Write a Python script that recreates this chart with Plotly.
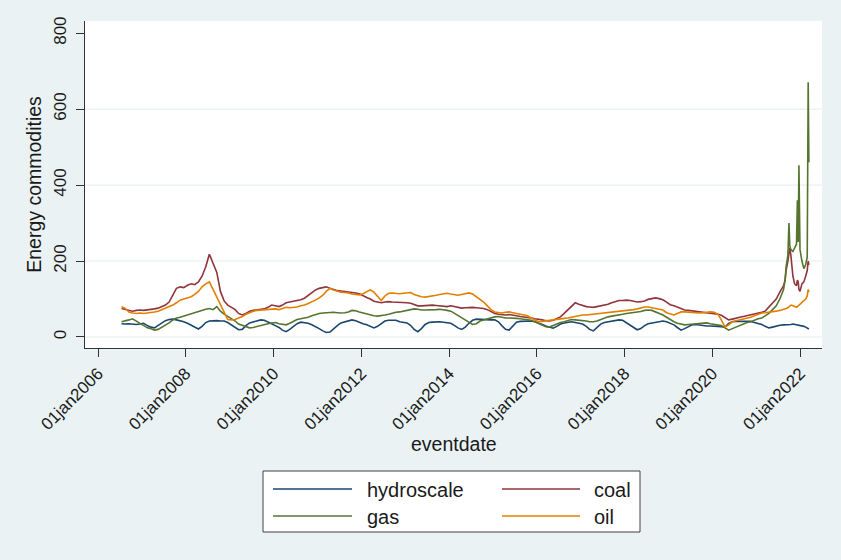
import pandas as pd
import plotly.graph_objects as go

# ---- data: monthly readings Jul 2006 - Aug 2021, then finer dates into Mar 2022 ----
monthly_dates = list((pd.date_range("2006-07-01", "2021-08-01", freq="MS")
                      + pd.Timedelta(days=14)).strftime("%Y-%m-%d"))
late_dates = ["2021-08-28", "2021-09-05", "2021-09-20", "2021-09-29", "2021-10-06",
              "2021-10-15", "2021-11-01", "2021-11-15", "2021-12-01", "2021-12-08",
              "2021-12-15", "2021-12-21", "2021-12-30", "2022-01-15", "2022-01-31",
              "2022-02-15", "2022-02-28", "2022-03-08", "2022-03-14"]
eventdate = monthly_dates + late_dates

hydroscale = [
    35, 34, 35, 34, 33, 34,
    36, 30, 26, 24, 30, 38, 43, 46, 47, 45, 43, 40,
    36, 31, 25, 21, 28, 38, 42, 43, 43, 42, 42, 38,
    32, 25, 19, 20, 30, 37, 40, 43, 45, 44, 40, 35,
    30, 25, 18, 14, 20, 28, 35, 39, 38, 36, 32, 28,
    22, 16, 12, 13, 22, 30, 37, 40, 43, 45, 43, 38,
    35, 32, 28, 24, 28, 36, 42, 44, 45, 44, 40, 38,
    37, 30, 20, 14, 22, 33, 38, 39, 40, 40, 39, 38,
    36, 30, 24, 20, 26, 36, 44, 47, 46, 45, 44, 45,
    45, 40, 30, 20, 18, 30, 39, 41, 42, 43, 42, 40,
    37, 33, 29, 25, 23, 28, 34, 37, 39, 40, 38, 36,
    34, 28, 20, 16, 24, 34, 38, 40, 43, 45, 45, 44,
    38, 30, 25, 19, 22, 30, 35, 37, 39, 41, 42, 40,
    36, 32, 25, 18, 22, 28, 32, 33, 31, 30, 29, 29,
    29, 28, 27, 26, 36, 40, 41, 41, 42, 42, 41, 38,
    36, 33, 28, 24, 26, 29, 31, 32,
    32, 33, 32, 33, 32, 33, 34, 33, 32, 33, 32, 32, 31, 30, 28, 26, 24, 22, 21,
]

coal = [
    75, 72, 70, 68, 70, 71,
    70, 71, 73, 74, 76, 80, 84, 92, 110, 128, 132, 130,
    136, 140, 138, 145, 160, 185, 218, 195, 170, 120, 95, 84,
    78, 72, 62, 58, 62, 68, 70, 72, 72, 74, 78, 84,
    82, 80, 84, 90, 92, 94, 96, 98, 102, 110, 116, 124,
    128, 130, 132, 128, 124, 122, 121, 120, 118, 117, 116, 114,
    110, 104, 100, 94, 92, 90, 92, 93, 92, 92, 91, 90,
    90, 89, 86, 82, 82, 83, 84, 84, 83, 82, 81, 80,
    82, 80, 78, 76, 77, 78, 78, 77, 76, 75, 72, 66,
    62, 60, 59, 58, 59, 58, 56, 54, 53, 52, 50, 48,
    47, 45, 43, 42, 44, 48, 53, 62, 72, 82, 90, 86,
    82, 80, 79, 78, 80, 82, 84, 86, 90, 94, 96, 96,
    97, 96, 94, 92, 93, 95, 99, 102, 103, 101, 98, 92,
    85, 82, 78, 74, 71, 70, 69, 68, 67, 66, 64, 62,
    61, 60, 57, 50, 45, 47, 50, 52, 54, 56, 57, 60,
    62, 65, 68, 78, 88, 100, 118, 135,
    150, 175, 200, 225, 235, 215, 160, 140, 135, 150, 145, 125, 120, 140, 145, 160, 175, 200, 190,
]

gas = [
    40, 42, 45, 48, 42, 35,
    28, 24, 22, 18, 20, 25, 32, 37, 45, 50, 52, 55,
    58, 62, 64, 66, 70, 73, 75, 72, 80, 68, 60, 54,
    50, 42, 34, 30, 26, 24, 25, 28, 30, 33, 35, 37,
    38, 35, 33, 32, 36, 42, 46, 48, 50, 52, 56, 60,
    62, 63, 64, 64, 65, 64, 63, 64, 66, 70, 69, 66,
    63, 60, 58, 56, 55, 56, 58, 60, 63, 65, 66, 68,
    70, 72, 74, 73, 71, 71, 71, 71, 72, 73, 72, 70,
    68, 62, 55, 50, 44, 38, 33, 35, 42, 45, 48, 51,
    53, 54, 52, 50, 50, 50, 49, 48, 46, 45, 44, 40,
    35, 30, 27, 26, 30, 35, 38, 40, 43, 46, 45, 44,
    44, 42, 40, 40, 42, 46, 50, 53, 55, 56, 58, 60,
    62, 63, 64, 65, 67, 70, 71, 70, 66, 63, 58, 52,
    45, 40, 36, 33, 32, 33, 34, 35, 36, 37, 37, 35,
    33, 32, 30, 24, 18, 22, 26, 30, 35, 38, 40, 44,
    48, 50, 55, 62, 72, 82, 100, 125,
    150, 185, 215, 300, 240, 230, 225, 235, 245, 360, 250, 452, 230, 200, 180, 190, 210, 671, 460,
]

oil = [
    80, 75, 66, 63, 62, 63,
    62, 63, 64, 66, 68, 72, 76, 78, 84, 90, 97, 100,
    103, 106, 112, 120, 132, 140, 145, 125, 105, 82, 62, 46,
    45, 46, 50, 54, 60, 65, 68, 70, 71, 72, 73, 72,
    74, 72, 75, 78, 77, 78, 79, 82, 84, 88, 92, 97,
    103, 110, 120, 128, 124, 120, 118, 117, 116, 113, 112, 111,
    114, 120, 124, 118, 108, 96, 108, 115, 116, 115, 114, 115,
    116, 117, 112, 108, 106, 105, 106, 108, 110, 112, 114, 115,
    113, 111, 110, 112, 114, 116, 113, 106, 100, 92, 82, 72,
    66, 64, 63, 65, 66, 64, 62, 60, 58, 56, 50, 44,
    40, 41, 43, 44, 45, 47, 48, 49, 50, 52, 54, 56,
    58, 58, 59, 60, 61, 62, 63, 63, 64, 65, 66, 68,
    70, 71, 72, 74, 77, 79, 79, 77, 75, 73, 71, 64,
    60, 58, 62, 66, 66, 65, 64, 63, 63, 64, 65, 66,
    65, 60, 45, 26, 32, 40, 43, 45, 47, 50, 52, 56,
    60, 63, 64, 65, 66, 68, 70, 72,
    74, 75, 77, 79, 82, 84, 82, 80, 78, 80, 82, 84, 86, 90, 96, 100, 108, 125, 118,
]

series_names = ["hydroscale", "coal", "gas", "oil"]
series_values = [hydroscale, coal, gas, oil]
series_colors = ["#1A476F", "#90353B", "#55752F", "#E37E00"]

tick_years = list(range(2006, 2023, 2))
x_tickvals = [f"{y}-01-01" for y in tick_years]
x_ticktext = [f"01jan{y}" for y in tick_years]
y_tickvals = [0, 200, 400, 600, 800]
grid_values = [0, 200, 400, 600]

for vals in series_values:
    assert len(vals) == len(eventdate), (len(vals), len(eventdate))

# ---- figure ----
W, H = 841, 560
ML, MR, MT, MB = 85, 19, 21, 212
PW, PH = W - ML - MR, H - MT - MB
FONT = "Liberation Sans, Arial, Helvetica, sans-serif"
TXT = "#1a1a1a"


def px_x(p):
    return (p - ML) / PW


def px_y(p):
    return (H - MB - p) / PH


fig = go.Figure()
for name, vals, col in zip(series_names, series_values, series_colors):
    fig.add_trace(go.Scatter(x=eventdate, y=vals, mode="lines", name=name,
                             line=dict(color=col, width=1.6), showlegend=False))

shapes = []
for g in grid_values:
    shapes.append(dict(type="line", xref="paper", yref="y", x0=0, x1=1, y0=g, y1=g,
                       line=dict(color="#E4ECEE", width=1), layer="below"))

annotations = []
# x-axis title, placed just under the slanted date labels
annotations.append(dict(text="eventdate", xref="paper", yref="paper", x=0.5, y=px_y(444),
                        xanchor="center", yanchor="middle", showarrow=False,
                        font=dict(family=FONT, size=19.5, color=TXT)))

# legend box under the axis title, two columns
shapes.append(dict(type="rect", xref="paper", yref="paper",
                   x0=px_x(263), x1=px_x(640), y0=px_y(532), y1=px_y(471),
                   line=dict(color="#404040", width=1), fillcolor="white", layer="above"))
cols = [(273, 352, 365), (502, 580, 592)]
rows = [489, 516]
for i, (name, col) in enumerate(zip(series_names, series_colors)):
    lx0, lx1, tx = cols[i % 2]
    ry = rows[i // 2]
    shapes.append(dict(type="line", xref="paper", yref="paper",
                       x0=px_x(lx0), x1=px_x(lx1), y0=px_y(ry), y1=px_y(ry),
                       line=dict(color=col, width=1.4), layer="above"))
    annotations.append(dict(text=name, xref="paper", yref="paper", x=px_x(tx), y=px_y(ry + 1),
                            xanchor="left", yanchor="middle", showarrow=False,
                            font=dict(family=FONT, size=20, color=TXT)))

fig.update_layout(
    width=W, height=H,
    margin=dict(l=ML, r=MR, t=MT, b=MB),
    paper_bgcolor="#EAF2F3", plot_bgcolor="#FFFFFF",
    font=dict(family=FONT, size=16, color=TXT),
    showlegend=False,
    shapes=shapes, annotations=annotations,
    xaxis=dict(type="date", range=["2005-09-14", "2022-07-01"],
               tickmode="array", tickvals=x_tickvals, ticktext=x_ticktext,
               tickangle=-45, ticks="outside", ticklen=8, tickwidth=1, tickcolor="#333333",
               showline=True, linecolor="#333333", linewidth=1,
               showgrid=False, zeroline=False,
               tickfont=dict(family=FONT, size=17, color=TXT)),
    yaxis=dict(range=[-29, 832], tickmode="array", tickvals=y_tickvals,
               tickangle=-90, ticks="outside", ticklen=8, tickwidth=1, tickcolor="#333333",
               showline=True, linecolor="#333333", linewidth=1,
               showgrid=False, zeroline=False, ticklabelstandoff=3,
               tickfont=dict(family=FONT, size=17, color=TXT),
               title=dict(text="Energy commodities", font=dict(family=FONT, size=19.5, color=TXT),
                          standoff=4)),
)

fig.write_html("out.html")
